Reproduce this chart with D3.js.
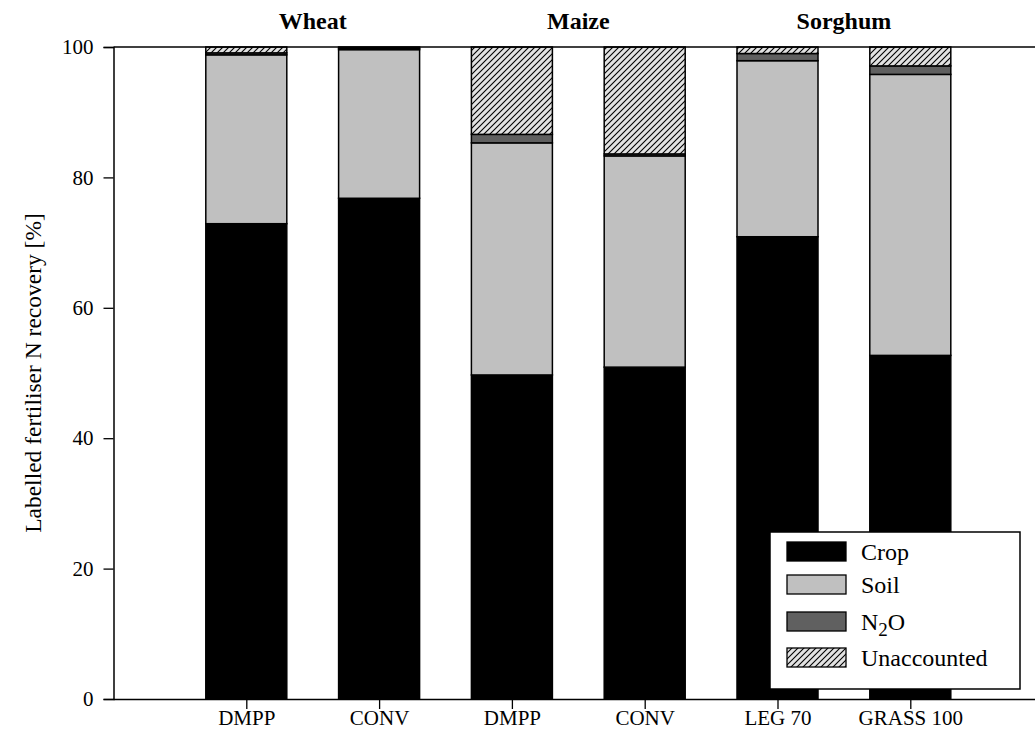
<!DOCTYPE html>
<html>
<head>
<meta charset="utf-8">
<script src="https://cdn.jsdelivr.net/npm/d3@7"></script>
<style>
  html, body { margin: 0; padding: 0; background: #fff; }
  svg { display: block; }
  text { font-family: "Liberation Serif", "Times New Roman", serif; fill: #000; }
</style>
</head>
<body>
<svg id="chart" width="1035" height="745"></svg>
<script>
// Treatments along the x axis and the crop group each pair belongs to
const treatments = ["DMPP", "CONV", "DMPP", "CONV", "LEG 70", "GRASS 100"];
const groups = ["Wheat", "Maize", "Sorghum"];

// Labelled fertiliser N recovery per pool [%]
const crop        = [72.9, 76.8, 49.7, 50.9, 70.9, 52.7];
const soil        = [25.9, 22.8, 35.6, 32.4, 27.0, 43.1];
const n2o         = [0.3,  0.2,  1.3,  0.3,  1.1,  1.3];
const unaccounted = [0.9,  0.2,  13.4, 16.4, 1.0,  2.9];

const yTicks = [0, 20, 40, 60, 80, 100];
const legendLabels = ["Crop", "Soil", "N2O", "Unaccounted"];

const svg = d3.select("#chart");
const x0 = 113.5, yTop = 47, yBottom = 699;
const step = 132.8;
const barW = 81;

const x = d3.scaleLinear().domain([0, 7]).range([x0, x0 + 7 * step]);
const y = d3.scaleLinear().domain([0, 100]).range([yBottom, yTop]);

// Diagonal hatch for the unaccounted fraction
const defs = svg.append("defs");
const pat = defs.append("pattern")
  .attr("id", "hatch").attr("patternUnits", "userSpaceOnUse")
  .attr("width", 6).attr("height", 6);
pat.append("rect").attr("width", 6).attr("height", 6).attr("fill", "#e2e2e2");
pat.append("path")
  .attr("d", "M0,6 L6,0 M-1.5,1.5 L1.5,-1.5 M4.5,7.5 L7.5,4.5")
  .attr("stroke", "#000").attr("stroke-width", 1.1);

const fills = ["#000000", "#c0c0c0", "#606060", "url(#hatch)"];

const rows = treatments.map((t, i) => ({
  idx: i + 1, crop: crop[i], soil: soil[i], n2o: n2o[i], unaccounted: unaccounted[i]
}));
const keys = ["crop", "soil", "n2o", "unaccounted"];
const stacked = d3.stack().keys(keys)(rows);

// Stacked bars
const layers = svg.append("g").selectAll("g").data(stacked).join("g")
  .attr("fill", (d, k) => fills[k]);
layers.selectAll("rect").data(d => d).join("rect")
  .attr("x", d => x(d.data.idx) - barW / 2)
  .attr("width", barW)
  .attr("y", d => y(d[1]))
  .attr("height", d => y(d[0]) - y(d[1]))
  .attr("stroke", "#000").attr("stroke-width", 1.5);

// Frame: top line, left axis, bottom axis
svg.append("line").attr("x1", x0).attr("x2", 1035)
  .attr("y1", yTop).attr("y2", yTop)
  .attr("stroke", "#000").attr("stroke-width", 1.5);

const yAxis = svg.append("g").attr("transform", `translate(${x0},0)`)
  .call(d3.axisLeft(y).tickValues(yTicks).tickSize(10).tickPadding(10));
yAxis.select(".domain").attr("stroke-width", 1.5);
yAxis.selectAll(".tick line").attr("stroke-width", 1.3);
yAxis.selectAll("text").style("font-size", "21px")
  .style("font-family", "'Liberation Serif', serif");

const xAxis = svg.append("g").attr("transform", `translate(0,${yBottom})`)
  .call(d3.axisBottom(x).tickValues(d3.range(1, 7)).tickSize(10).tickPadding(1)
    .tickFormat(v => treatments[v - 1]));
xAxis.select(".domain").attr("d", `M${x0},0.5H1035`).attr("stroke-width", 1.5);
xAxis.selectAll(".tick line").attr("stroke-width", 1.3);
xAxis.selectAll("text").style("font-size", "21px")
  .style("font-family", "'Liberation Serif', serif");

// Crop group titles
svg.append("g").selectAll("text").data(groups).join("text")
  .attr("x", (d, i) => x(1.5 + 2 * i))
  .attr("y", 29)
  .attr("text-anchor", "middle")
  .style("font-size", "24px").style("font-weight", "bold")
  .text(d => d);

// Y axis title
svg.append("text")
  .attr("transform", `translate(41,${(yTop + yBottom) / 2}) rotate(-90)`)
  .attr("text-anchor", "middle")
  .style("font-size", "23.5px")
  .text("Labelled fertiliser N recovery [%]");

// Legend
const lg = svg.append("g");
lg.append("rect").attr("x", 770).attr("y", 532).attr("width", 250).attr("height", 157)
  .attr("fill", "#fff").attr("stroke", "#000").attr("stroke-width", 1.5);
const rowY = [542, 575, 612, 648];
const items = lg.selectAll("g.item").data(legendLabels).join("g").attr("class", "item");
items.append("rect")
  .attr("x", 787).attr("y", (d, i) => rowY[i])
  .attr("width", 59).attr("height", 19)
  .attr("fill", (d, i) => fills[i])
  .attr("stroke", "#000").attr("stroke-width", 1.3);
items.append("text")
  .attr("x", 861).attr("y", (d, i) => rowY[i] + 18)
  .style("font-size", "24px")
  .each(function (d) {
    const t = d3.select(this);
    if (d === "N2O") {
      t.append("tspan").text("N");
      t.append("tspan").attr("dy", 6).style("font-size", "19px").text("2");
      t.append("tspan").attr("dy", -6).text("O");
    } else {
      t.text(d);
    }
  });
</script>
</body>
</html>
